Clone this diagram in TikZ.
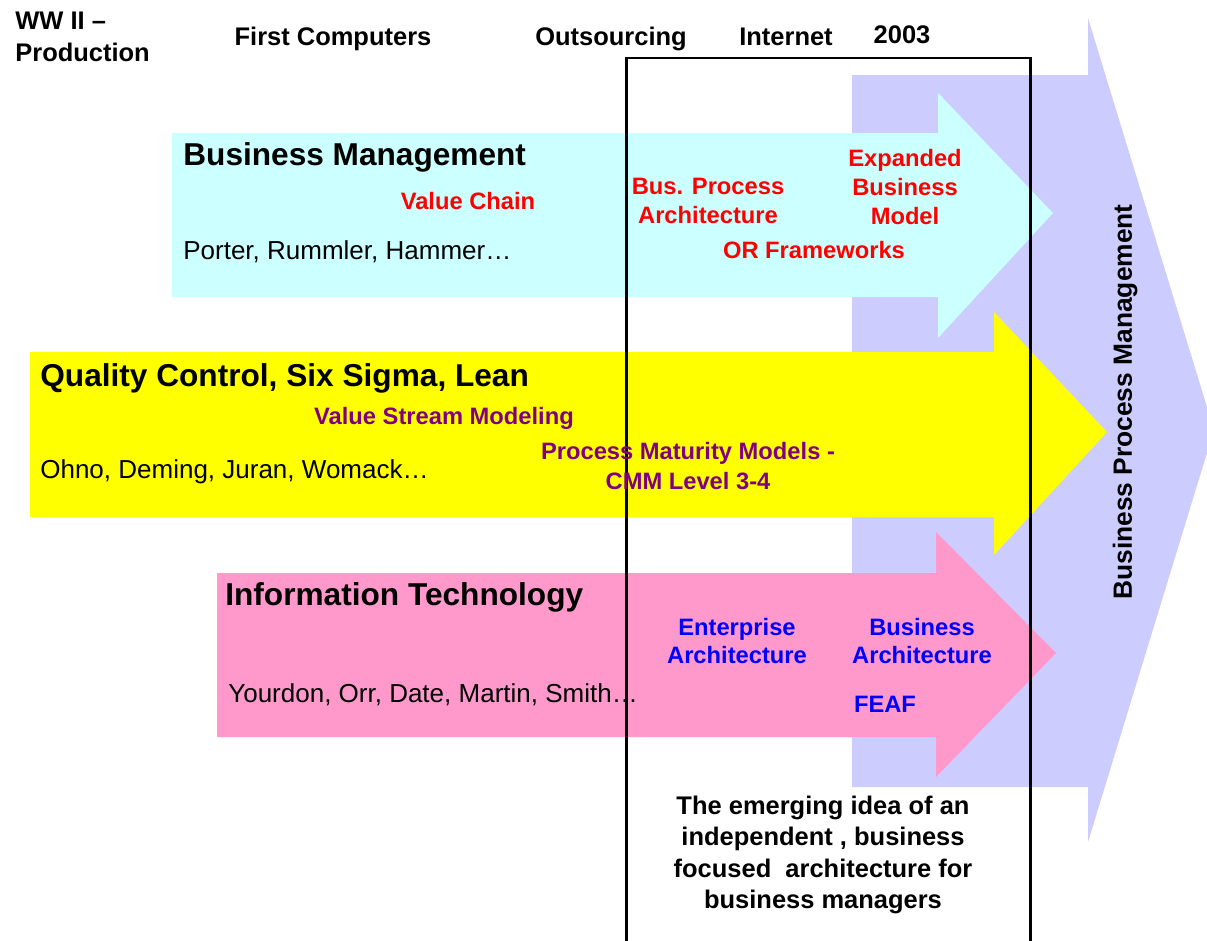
\documentclass[tikz,border=0pt]{standalone}
\usepackage{fontspec}
\setmainfont{Liberation Sans}
\definecolor{bpmblue}{HTML}{CCCCFF}
\definecolor{bmcyan}{HTML}{CCFFFF}
\definecolor{qcyellow}{HTML}{FFFF00}
\definecolor{itpink}{HTML}{FF99CC}
\definecolor{bmred}{HTML}{FF0000}
\definecolor{qcpurple}{HTML}{800080}
\definecolor{itblue}{HTML}{0000FF}

\begin{document}
\begin{tikzpicture}[x=0.02cm, y=-0.02cm, inner sep=0pt,
  era/.style = {font=\fontsize{14.5}{18}\selectfont\bfseries, align=center},
  stream/.style = {anchor=west, font=\fontsize{18}{20}\selectfont\bfseries},
  people/.style = {anchor=west, font=\fontsize{14.8}{16}\selectfont},
  tag/.style = {font=\fontsize{13.5}{16.4}\selectfont\bfseries, align=center}]
\useasboundingbox (0,0) rectangle (1207,940);
% the big arrows
\fill [bpmblue] (852,75) -- (1088,75) -- (1088,18) -- (1214,430)
  -- (1088,842) -- (1088,787) -- (852,787) -- cycle;
\fill [bmcyan] (172,133) -- (938,133) -- (938,93) -- (1053,213)
  -- (938,338) -- (938,297) -- (172,297) -- cycle;
\fill [qcyellow] (30,352) -- (994,352) -- (994,312) -- (1107,432)
  -- (994,555) -- (994,517) -- (30,517) -- cycle;
\fill [itpink] (217,573) -- (936,573) -- (936,532) -- (1056,653)
  -- (936,777) -- (936,737) -- (217,737) -- cycle;
% the box round the new ideas
\draw [line width=1.7pt] (626,942) -- (626,58) -- (1030,58) -- (1030,942);

% time line
\node [era, anchor=west, align=left] (ww2) at (15,37) {WW II --\\Production};
\node [era, anchor=base] (first_comp) at (333,45) {First Computers};
\node [era, anchor=base] (outsourcing) at (611,45) {Outsourcing};
\node [era, anchor=base] (internet) at (786,45) {Internet};
\node [era, anchor=base] (year) at (902,43) {2003};

% business management
\node [stream] (bm_title) at (183,157) {Business Management};
\node [tag, text=bmred] (value_chain) at (468,201) {Value Chain};
\node [people] (bm_names) at (183,252) {Porter, Rummler, Hammer\ldots};
\node [tag, text=bmred] (bpa) at (708,201) {Bus. Process\\Architecture};
\node [tag, text=bmred] (ebm) at (905,187) {Expanded\\Business\\Model};
\node [tag, text=bmred] (orf) at (814,250) {OR Frameworks};

% quality
\node [stream] (qc_title) at (40,378) {Quality Control, Six Sigma, Lean};
\node [tag, text=qcpurple] (vsm) at (444,418) {Value Stream Modeling};
\node [people] (qc_names) at (40,472) {Ohno, Deming, Juran, Womack\ldots};
\node [tag, text=qcpurple, font=\fontsize{13.5}{17}\selectfont\bfseries]
  (pmm) at (688,466) {Process Maturity Models -\\CMM Level 3-4};

% information technology
\node [stream] (it_title) at (225,597) {Information Technology};
\node [tag, text=itblue] (ea) at (737,641) {Enterprise\\Architecture};
\node [tag, text=itblue] (ba) at (922,641) {Business\\Architecture};
\node [people] (it_names) at (228,695) {Yourdon, Orr, Date, Martin, Smith\ldots};
\node [tag, text=itblue] (feaf) at (885,704) {FEAF};

\node [era] (emerging) at (823,855) {The emerging idea of an\\independent , business\\focused\ \ architecture for\\business managers};
\node [era, rotate=90, font=\fontsize{15}{18}\selectfont\bfseries] (bpm) at (1125,402) {Business Process Management};
\end{tikzpicture}
\end{document}
